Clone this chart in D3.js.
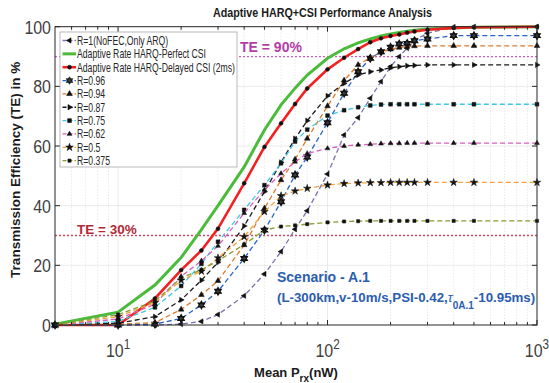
<!DOCTYPE html>
<html>
<head>
<meta charset="utf-8">
<script src="https://d3js.org/d3.v7.min.js"></script>
<style>
  body { margin: 0; background: #fff; }
  svg { display: block; }
</style>
</head>
<body>
<div id="chart"></div>
<script>
// mean received power (nW) sampled for every curve
const powers = [5, 10, 15, 20, 25, 30, 40, 50, 60, 70, 80, 100, 120, 140, 160, 180, 200, 220, 240, 260, 300, 400, 500, 1000];

// transmission efficiency (%) per scheme
const teR1      = [0, 0, 0, 0.3, 1.2, 3.5, 9.8, 17.1, 24.6, 32.1, 38.3, 50.6, 63.7, 69.5, 76, 81.6, 86.6, 90, 92.8, 95.4, 97.8, 99.9, 100, 100];
const tePerfect = [0.3, 4.3, 13.4, 22.6, 32, 40, 53, 65.4, 73.8, 79.4, 83.8, 89.4, 92.6, 94.6, 95.9, 96.9, 97.6, 98.1, 98.5, 98.8, 99.2, 99.6, 99.8, 100];
const teDelayed = [0, 0, 8.9, 18.4, 25, 32.3, 47.5, 59.7, 67.6, 74.1, 79.3, 85.7, 89.6, 92.5, 94.8, 96.1, 96.9, 97.4, 98, 98.4, 99, 99.6, 99.8, 100];
const teR096    = [0, 0, 0.3, 2.2, 6.7, 11.3, 22.3, 31.8, 41.3, 50.3, 56.3, 67.8, 77.7, 84.9, 89.4, 91.6, 93.1, 94.2, 94.4, 95.3, 95.9, 97, 97, 97];
const teR094    = [0, 0.3, 0.8, 5.2, 10.1, 14.8, 26.8, 39.1, 48.6, 55.5, 62.5, 73.4, 82, 87.2, 89.6, 91.4, 92.4, 93, 93.3, 93.5, 93.6, 93.6, 93.6, 93.6];
const teR087    = [0, 0.6, 2.8, 8.4, 15, 21, 33.2, 44.7, 54.5, 62.5, 68.5, 76.8, 81, 83.8, 84.9, 85.5, 86.2, 86.6, 86.9, 87, 87.2, 87.2, 87.2, 87.2];
const teR075    = [0, 1.2, 5.9, 13.1, 20.5, 27.9, 38.6, 46.9, 54.2, 61.5, 65.5, 70.2, 72, 73, 73.6, 73.9, 74, 74, 74, 74, 74, 74, 74, 74];
const teR062    = [0, 2, 7, 16.3, 21.5, 26.5, 37.5, 45.3, 50.8, 54.7, 57.5, 59.2, 60, 60.4, 60.6, 60.8, 60.9, 60.9, 61, 61, 61, 61, 61, 61];
const teR050    = [0, 2.8, 7.5, 15, 18, 22.5, 29.6, 38, 43.3, 44.9, 45.8, 46.9, 47.4, 47.6, 47.7, 47.7, 47.8, 47.8, 47.8, 47.8, 47.8, 47.8, 47.8, 47.8];
const teR0375   = [0, 3.5, 8, 15.8, 18.5, 21.5, 27, 31.8, 33, 33.4, 33.8, 34.4, 34.7, 34.8, 34.9, 34.9, 34.9, 34.9, 34.9, 34.9, 34.9, 34.9, 34.9, 34.9];

const seriesNames = ["R=1(NoFEC,Only ARQ)", "Adaptive Rate HARQ-Perfect CSI", "Adaptive Rate HARQ-Delayed CSI (2ms)",
  "R=0.96", "R=0.94", "R=0.87", "R=0.75", "R=0.62", "R=0.5", "R=0.375"];
const seriesValues = [teR1, tePerfect, teDelayed, teR096, teR094, teR087, teR075, teR062, teR050, teR0375];

const yTicks = [0, 20, 40, 60, 80, 100];
const xDecades = [10, 100, 1000];
const thresholds = [90, 30];

const width = 549, height = 383;
const plot = { left: 55, right: 537, top: 26.7, bottom: 325 };
const font = "'Liberation Sans', Arial, sans-serif";
const squeeze = 0.84; // tick labels look horizontally condensed

// custom marker shapes
const hexagram = {
  draw(ctx, size) {
    const r = Math.sqrt(size) * 0.75;
    for (let k = 0; k < 2; k++) {
      for (let i = 0; i < 3; i++) {
        const a = -Math.PI / 2 + k * Math.PI + i * 2 * Math.PI / 3;
        if (i === 0) ctx.moveTo(r * Math.cos(a), r * Math.sin(a));
        else ctx.lineTo(r * Math.cos(a), r * Math.sin(a));
      }
      ctx.closePath();
    }
  }
};

const styles = [
  { color: "#7a72b0", dash: "5,3", w: 1.3, sym: d3.symbolTriangle, size: 12, rot: -90 },
  { color: "#4cbb3c", dash: null, w: 3, sym: null },
  { color: "#f42020", dash: null, w: 2.6, sym: d3.symbolCircle, size: 12 },
  { color: "#2a63c8", dash: "5,3", w: 1.3, sym: hexagram, size: 26, hollow: true },
  { color: "#e07a2c", dash: "5,3", w: 1.3, sym: d3.symbolTriangle, size: 14 },
  { color: "#1a1a1a", dash: "5,3", w: 1.3, sym: d3.symbolTriangle, size: 12, rot: 90 },
  { color: "#3fc9e2", dash: "5,3", w: 1.3, sym: d3.symbolSquare, size: 14 },
  { color: "#d95fc0", dash: "5,3", w: 1.3, sym: d3.symbolTriangle, size: 10 },
  { color: "#f0a23c", dash: "5,3", w: 1.3, sym: d3.symbolStar, size: 18 },
  { color: "#8a9c34", dash: "5,3", w: 1.3, sym: d3.symbolSquare, size: 10 }
];

const svg = d3.select("#chart").append("svg")
  .attr("width", width).attr("height", height)
  .style("font-family", font);

const x = d3.scaleLog().domain([5, 1000]).range([plot.left, plot.right]);
const y = d3.scaleLinear().domain([0, 100]).range([plot.bottom, plot.top]);

const minorX = [6, 7, 8, 9, 20, 30, 40, 50, 60, 70, 80, 90, 200, 300, 400, 500, 600, 700, 800, 900];

// grid
const grid = svg.append("g");
grid.selectAll(".minor").data(minorX).join("line")
  .attr("x1", d => x(d)).attr("x2", d => x(d))
  .attr("y1", plot.top).attr("y2", plot.bottom)
  .attr("stroke", "#d8d8d8").attr("stroke-width", 0.8).attr("stroke-dasharray", "1,2");
grid.selectAll(".vmajor").data([10, 100]).join("line")
  .attr("x1", d => x(d)).attr("x2", d => x(d))
  .attr("y1", plot.top).attr("y2", plot.bottom)
  .attr("stroke", "#e4e4e4").attr("stroke-width", 0.8);
grid.selectAll(".hmajor").data([20, 40, 60, 80]).join("line")
  .attr("x1", plot.left).attr("x2", plot.right)
  .attr("y1", d => y(d)).attr("y2", d => y(d))
  .attr("stroke", "#e4e4e4").attr("stroke-width", 0.8);

// threshold lines
const thrColors = ["#d060c0", "#d8485a"];
svg.selectAll(".thr").data(thresholds).join("line")
  .attr("x1", plot.left).attr("x2", plot.right)
  .attr("y1", d => y(d)).attr("y2", d => y(d))
  .attr("stroke", (d, i) => thrColors[i]).attr("stroke-width", 1.3)
  .attr("stroke-dasharray", "2,2");

// curves
const line = d3.line().x((d, i) => x(powers[i])).y(d => y(d));
seriesValues.forEach((vals, k) => {
  const s = styles[k];
  const g = svg.append("g");
  g.append("path").datum(vals)
    .attr("d", line)
    .attr("fill", "none")
    .attr("stroke", s.color)
    .attr("stroke-width", s.w)
    .attr("stroke-dasharray", s.dash);
  if (s.sym) {
    g.selectAll("path.m").data(vals).join("path")
      .attr("class", "m")
      .attr("d", d3.symbol().type(s.sym).size(s.size))
      .attr("transform", (d, i) => `translate(${x(powers[i])},${y(d)}) rotate(${s.rot || 0})`)
      .attr("fill", s.hollow ? "#3a3a3a" : "#111")
      .attr("stroke", "#111")
      .attr("stroke-width", s.hollow ? 1.1 : 0.5);
  }
});

// frame + ticks
const frame = svg.append("g").attr("stroke", "#262626").attr("stroke-width", 1);
frame.append("rect")
  .attr("x", plot.left).attr("y", plot.top)
  .attr("width", plot.right - plot.left).attr("height", plot.bottom - plot.top)
  .attr("fill", "none");
const tickDefs = [
  ...xDecades.map(v => ({ v, len: 5 })),
  ...minorX.map(v => ({ v, len: 3 }))
];
frame.selectAll(".xt").data(tickDefs).join("line")
  .attr("x1", d => x(d.v)).attr("x2", d => x(d.v))
  .attr("y1", plot.bottom).attr("y2", d => plot.bottom - d.len);
frame.selectAll(".xtt").data(tickDefs).join("line")
  .attr("x1", d => x(d.v)).attr("x2", d => x(d.v))
  .attr("y1", plot.top).attr("y2", d => plot.top + d.len);
frame.selectAll(".yt").data(yTicks).join("line")
  .attr("x1", plot.left).attr("x2", plot.left + 5)
  .attr("y1", d => y(d)).attr("y2", d => y(d));
frame.selectAll(".ytr").data(yTicks).join("line")
  .attr("x1", plot.right).attr("x2", plot.right - 5)
  .attr("y1", d => y(d)).attr("y2", d => y(d));

// tick labels
svg.selectAll(".ylab").data(yTicks).join("text")
  .attr("transform", d => `translate(${plot.left - 4},${y(d)}) scale(${squeeze},1)`)
  .attr("dy", "0.36em")
  .attr("text-anchor", "end")
  .style("font-size", "19px").attr("fill", "#404040")
  .text(d => d);
const xl = svg.selectAll(".xlab").data(xDecades).join("text")
  .attr("transform", d => `translate(${x(d)},357) scale(${squeeze},1)`)
  .attr("text-anchor", "middle")
  .style("font-size", "19px").attr("fill", "#404040");
xl.append("tspan").text("10");
xl.append("tspan").attr("dy", -8).style("font-size", "14px").text(d => Math.round(Math.log10(d)));

// axis titles
svg.append("text")
  .attr("x", 213).attr("y", 17)
  .attr("textLength", 219).attr("lengthAdjust", "spacingAndGlyphs")
  .style("font-size", "12.5px").style("font-weight", "bold").attr("fill", "#1a1a1a")
  .text("Adaptive HARQ+CSI Performance Analysis");
const xt = svg.append("text")
  .attr("x", (plot.left + plot.right) / 2).attr("y", 377)
  .attr("text-anchor", "middle")
  .style("font-size", "13px").style("font-weight", "bold").attr("fill", "#1a1a1a");
xt.append("tspan").text("Mean P");
xt.append("tspan").attr("dy", 5).style("font-size", "10px").text("rx");
xt.append("tspan").attr("dy", -5).text("(nW)");
svg.append("text")
  .attr("transform", `translate(20,${(plot.top + plot.bottom) / 2 - 6}) rotate(-90)`)
  .attr("text-anchor", "middle")
  .style("font-size", "13.5px").style("font-weight", "bold").attr("fill", "#1a1a1a")
  .text("Transmission Efficiency (TE) in %");

// threshold labels
svg.append("text").attr("x", 240).attr("y", 52)
  .style("font-size", "14px").style("font-weight", "bold").attr("fill", "#b23ea4")
  .text("TE = 90%");
svg.append("text").attr("x", 77).attr("y", 234)
  .style("font-size", "13.5px").style("font-weight", "bold").attr("fill", "#b02a36")
  .text("TE = 30%");

// scenario note
const blue = "#2b5db0";
svg.append("text").attr("x", 277).attr("y", 281.5)
  .style("font-size", "14px").style("font-weight", "bold").attr("fill", blue)
  .text("Scenario - A.1");
const note = svg.append("text").attr("x", 277).attr("y", 302)
  .style("font-size", "13.3px").style("font-weight", "bold").attr("fill", blue);
note.append("tspan").text("(L-300km,v-10m/s,PSI-0.42,");
note.append("tspan").style("font-style", "italic").style("font-weight", "normal").text("τ");
note.append("tspan").attr("dy", 7).style("font-size", "10px").text("0A.1");
note.append("tspan").attr("dy", -7).text("-10.95ms)");

// legend
const legend = svg.append("g").attr("transform", "translate(60,32)");
legend.append("rect")
  .attr("width", 177).attr("height", 135)
  .attr("fill", "#fff").attr("stroke", "#a8a8a8").attr("stroke-width", 0.8);
const rows = legend.selectAll("g.row").data(seriesNames).join("g")
  .attr("class", "row")
  .attr("transform", (d, i) => `translate(0,${8.5 + i * 13.35})`);
rows.append("line")
  .attr("x1", 2.5).attr("x2", 16)
  .attr("stroke", (d, i) => styles[i].color)
  .attr("stroke-width", (d, i) => styles[i].w)
  .attr("stroke-dasharray", (d, i) => styles[i].dash ? "4,2" : null);
rows.each(function (d, i) {
  const s = styles[i];
  if (!s.sym) return;
  d3.select(this).append("path")
    .attr("d", d3.symbol().type(s.sym).size(s.size)())
    .attr("transform", `translate(9.5,0) rotate(${s.rot || 0})`)
    .attr("fill", s.hollow ? "#3a3a3a" : "#111")
    .attr("stroke", "#111").attr("stroke-width", 0.6);
});
const labels = rows.append("text")
  .attr("dy", "0.36em")
  .style("font-size", "12.5px").attr("fill", "#262626")
  .text(d => d);
// fit the longest entry into the box like the condensed original
const longest = d3.max(labels.nodes(), n => n.getComputedTextLength());
const lx = Math.min(1, 158 / longest);
labels.attr("transform", `translate(17,0) scale(${lx},1)`);
</script>
</body>
</html>
